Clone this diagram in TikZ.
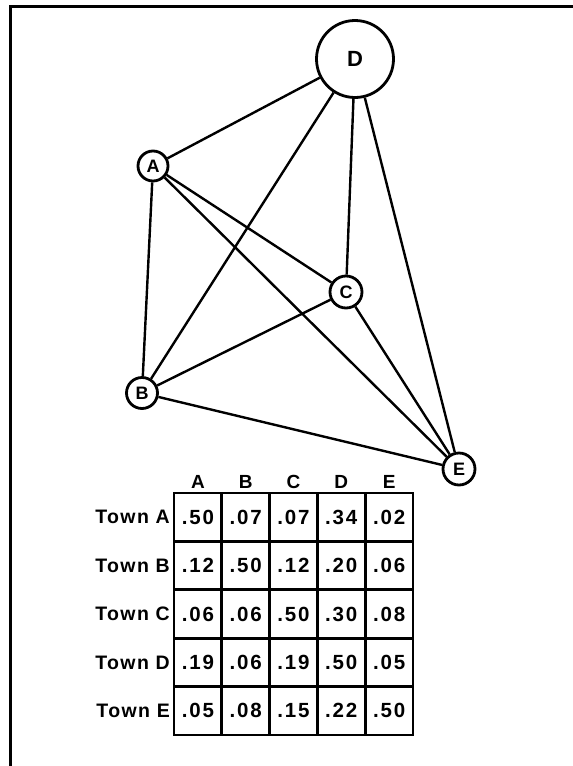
\documentclass[tikz,border=0pt]{standalone}
\usepackage{fontspec}
\setmainfont{Liberation Sans}
\newfontfamily\spaced[LetterSpace=9.0]{Liberation Sans}
\newfontfamily\lspaced[LetterSpace=7.0]{Liberation Sans}
\begin{document}
\begin{tikzpicture}[x=1pt,y=-1pt,
  town/.style={circle,draw,line width=2.8pt,inner sep=0pt,font=\bfseries\fontsize{18}{18}\selectfont},
  link/.style={line width=2.4pt},
  cell/.style={draw,line width=2.8pt,minimum width=47.8pt,minimum height=48.4pt,inner sep=0pt,font=\spaced\bfseries\fontsize{20.5}{20.5}\selectfont},
  head/.style={inner sep=0pt,font=\bfseries\fontsize{19}{19}\selectfont},
  rowlab/.style={anchor=east,inner sep=0pt,font=\lspaced\bfseries\fontsize{19.5}{19.5}\selectfont}]
\useasboundingbox (0,0) rectangle (573,766);
% frame
\draw[line width=3pt] (10,766) -- (10,6) -- (573,6);
% towns
\node[town,minimum size=77pt,font=\bfseries\fontsize{22}{22}\selectfont] (D) at (355,59) {D};
\node[town,minimum size=30pt] (A) at (153,166) {A};
\node[town,minimum size=32pt] (C) at (346,292) {C};
\node[town,minimum size=31pt] (B) at (142,393) {B};
\node[town,minimum size=32pt] (E) at (459,469) {E};
% links
\draw[link] (A) -- (D);
\draw[link] (A) -- (B);
\draw[link] (A) -- (C);
\draw[link] (A) -- (E);
\draw[link] (D) -- (B);
\draw[link] (D) -- (C);
\draw[link] (D) -- (E);
\draw[link] (C) -- (B);
\draw[link] (C) -- (E);
\draw[link] (B) -- (E);
% table headers
\foreach \h [count=\i from 0] in {A,B,C,D,E}
  \node[head] (h-\i) at (197.9+47.8*\i,482) {\h};
% table cells
\foreach \r/\vals [count=\j from 0] in {A/{.50,.07,.07,.34,.02},B/{.12,.50,.12,.20,.06},C/{.06,.06,.50,.30,.08},D/{.19,.06,.19,.50,.05},E/{.05,.08,.15,.22,.50}}{
  \node[rowlab] (r-\j) at (170,517.2+48.4*\j) {Town \r};
  \foreach \v [count=\i from 0] in \vals
    \node[cell] (c-\j-\i) at (197.9+47.8*\i,517.2+48.4*\j) {\v};
}
\end{tikzpicture}
\end{document}
